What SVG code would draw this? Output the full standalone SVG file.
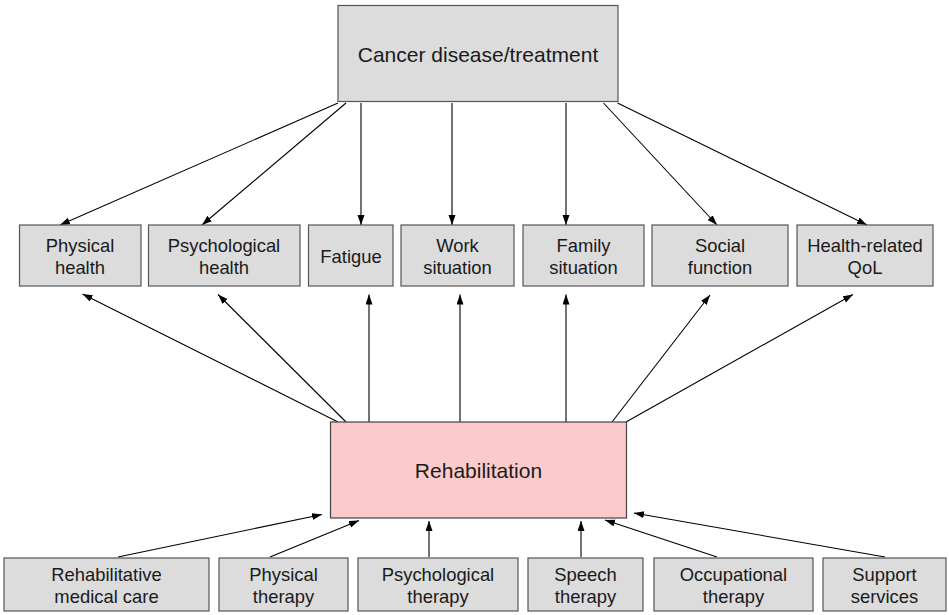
<svg xmlns="http://www.w3.org/2000/svg" width="949" height="615" viewBox="0 0 949 615">
<style>
.box{fill:#dcdcdc;stroke:#555;stroke-width:1.2}
.rehab{fill:#fccaca;stroke:#444;stroke-width:1.2}
.t{font-family:"Liberation Sans",Arial,sans-serif;font-size:18.4px;fill:#1a1a1a;text-anchor:middle}
.big{font-size:21px}
.c line{stroke:#000;stroke-width:1.1;marker-end:url(#ah)}
</style>
<defs>
<marker id="ah" markerUnits="userSpaceOnUse" markerWidth="11" markerHeight="8" refX="10" refY="3.5" orient="auto">
<path d="M0,0 L10,3.5 L0,7 z" fill="#000"/>
</marker>
</defs>
<rect width="949" height="615" fill="#fff"/>
<g class="c">
<line x1="338" y1="103" x2="60" y2="225"/>
<line x1="346" y1="103" x2="202" y2="225"/>
<line x1="361" y1="103" x2="361" y2="225"/>
<line x1="452" y1="103" x2="452" y2="225"/>
<line x1="566" y1="103" x2="566" y2="225"/>
<line x1="603.5" y1="103" x2="717" y2="225"/>
<line x1="617.5" y1="103" x2="867" y2="225"/>
<line x1="338" y1="422" x2="82.5" y2="294"/>
<line x1="346" y1="422" x2="218" y2="294.5"/>
<line x1="369" y1="422" x2="369" y2="294.5"/>
<line x1="460" y1="422" x2="460" y2="294.5"/>
<line x1="566" y1="422" x2="566" y2="294.5"/>
<line x1="612" y1="422" x2="710" y2="295"/>
<line x1="626" y1="422" x2="853" y2="294.5"/>
<line x1="118" y1="557" x2="322" y2="514.5"/>
<line x1="270" y1="557" x2="359" y2="520.5"/>
<line x1="429" y1="557" x2="429" y2="521"/>
<line x1="581" y1="557" x2="581" y2="521"/>
<line x1="717" y1="557" x2="605" y2="520"/>
<line x1="885" y1="557" x2="634" y2="513"/>
</g>
<g id="cancer"><rect class="box" x="338" y="5.5" width="280" height="96"/><text class="t big" x="478" y="62">Cancer disease/treatment</text></g>
<g id="physical-health"><rect class="box" x="19.5" y="225" width="121.5" height="61"/><text class="t" x="80" y="252">Physical</text><text class="t" x="80" y="274">health</text></g>
<g id="psychological-health"><rect class="box" x="148.5" y="225" width="151.5" height="61"/><text class="t" x="224" y="252">Psychological</text><text class="t" x="224" y="274">health</text></g>
<g id="fatigue"><rect class="box" x="308.5" y="225" width="84.5" height="61"/><text class="t" x="351" y="263">Fatigue</text></g>
<g id="work"><rect class="box" x="401" y="225" width="113" height="61"/><text class="t" x="457.5" y="252">Work</text><text class="t" x="457.5" y="274">situation</text></g>
<g id="family"><rect class="box" x="523" y="225" width="121" height="61"/><text class="t" x="583.5" y="252">Family</text><text class="t" x="583.5" y="274">situation</text></g>
<g id="social"><rect class="box" x="652" y="225" width="136" height="61"/><text class="t" x="720" y="252">Social</text><text class="t" x="720" y="274">function</text></g>
<g id="qol"><rect class="box" x="797" y="225" width="136" height="61"/><text class="t" x="865" y="252">Health-related</text><text class="t" x="865" y="274">QoL</text></g>
<g id="rehabilitation"><rect class="rehab" x="330.5" y="422" width="296" height="96"/><text class="t big" x="478.5" y="478">Rehabilitation</text></g>
<g id="rehab-medical"><rect class="box" x="4" y="558" width="205" height="53"/><text class="t" x="106.5" y="581">Rehabilitative</text><text class="t" x="106.5" y="603">medical care</text></g>
<g id="physical-therapy"><rect class="box" x="219" y="558" width="129" height="53"/><text class="t" x="283.5" y="581">Physical</text><text class="t" x="283.5" y="603">therapy</text></g>
<g id="psychological-therapy"><rect class="box" x="358" y="558" width="160" height="53"/><text class="t" x="438" y="581">Psychological</text><text class="t" x="438" y="603">therapy</text></g>
<g id="speech"><rect class="box" x="528" y="558" width="115" height="53"/><text class="t" x="585.5" y="581">Speech</text><text class="t" x="585.5" y="603">therapy</text></g>
<g id="occupational"><rect class="box" x="654" y="558" width="159" height="53"/><text class="t" x="733.5" y="581">Occupational</text><text class="t" x="733.5" y="603">therapy</text></g>
<g id="support"><rect class="box" x="823" y="558" width="123" height="53"/><text class="t" x="884.5" y="581">Support</text><text class="t" x="884.5" y="603">services</text></g>
</svg>
